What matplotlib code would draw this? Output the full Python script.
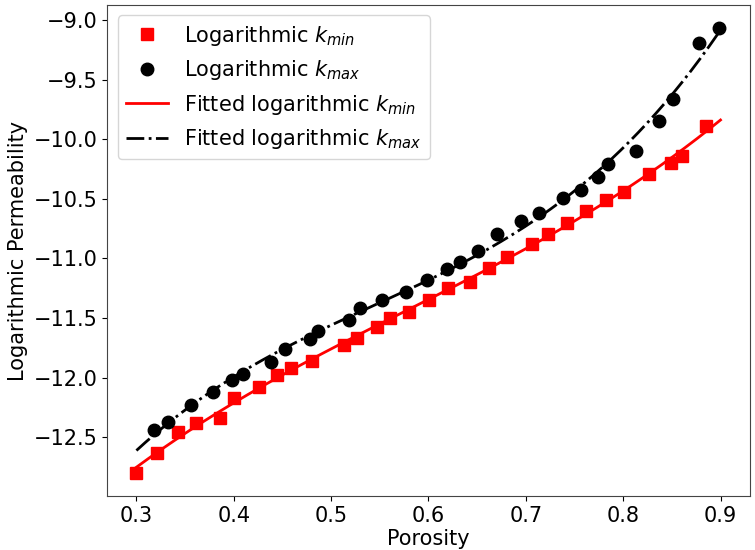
import numpy as np
import matplotlib.pyplot as plt

# measured points
poro_min = [0.300, 0.321, 0.343, 0.361, 0.386, 0.400, 0.426, 0.444, 0.459, 0.480,
            0.513, 0.527, 0.547, 0.561, 0.580, 0.601, 0.620, 0.643, 0.662, 0.681,
            0.706, 0.723, 0.742, 0.762, 0.782, 0.801, 0.827, 0.849, 0.860, 0.885]
logk_min = [-12.80, -12.63, -12.46, -12.38, -12.34, -12.17, -12.08, -11.98, -11.92, -11.86,
            -11.73, -11.67, -11.58, -11.50, -11.45, -11.35, -11.25, -11.20, -11.08, -10.99,
            -10.88, -10.80, -10.70, -10.60, -10.51, -10.44, -10.29, -10.20, -10.14, -9.89]

poro_max = [0.318, 0.332, 0.356, 0.379, 0.398, 0.410, 0.438, 0.453, 0.478, 0.487,
            0.518, 0.530, 0.552, 0.577, 0.599, 0.619, 0.632, 0.651, 0.670, 0.695,
            0.714, 0.738, 0.757, 0.774, 0.784, 0.813, 0.837, 0.851, 0.878, 0.898]
logk_max = [-12.44, -12.37, -12.23, -12.12, -12.02, -11.97, -11.87, -11.76, -11.68, -11.61,
            -11.52, -11.42, -11.35, -11.28, -11.18, -11.09, -11.03, -10.94, -10.80, -10.69,
            -10.62, -10.49, -10.43, -10.32, -10.21, -10.10, -9.85, -9.66, -9.19, -9.07]

# fitted curves
c_min = np.polyfit(poro_min, logk_min, 3)
c_max = np.polyfit(poro_max, logk_max, 3)
x = np.linspace(0.3, 0.9, 200)

fig = plt.figure(figsize=(7.55, 5.5), dpi=100)
ax = fig.add_axes([0.142, 0.098, 0.851, 0.893])

ax.plot(poro_min, logk_min, 's', color='red', markersize=8, label='Logarithmic $k_{min}$')
ax.plot(poro_max, logk_max, 'o', color='black', markersize=9, label='Logarithmic $k_{max}$')
ax.plot(x, np.polyval(c_min, x), '-', color='red', lw=2, label='Fitted logarithmic $k_{min}$')
ax.plot(x, np.polyval(c_max, x), '-.', color='black', lw=2, label='Fitted logarithmic $k_{max}$')

ax.set_xlim(0.27, 0.93)
ax.set_ylim(-12.995, -8.874)
ax.set_xlabel('Porosity', fontsize=15, labelpad=2)
ax.set_ylabel('Logarithmic Permeability', fontsize=15, labelpad=4)
ax.tick_params(labelsize=15)
for s in ax.spines.values():
    s.set_color('#444444')
ax.legend(loc='upper left', fontsize=15)

plt.savefig('out.png')
